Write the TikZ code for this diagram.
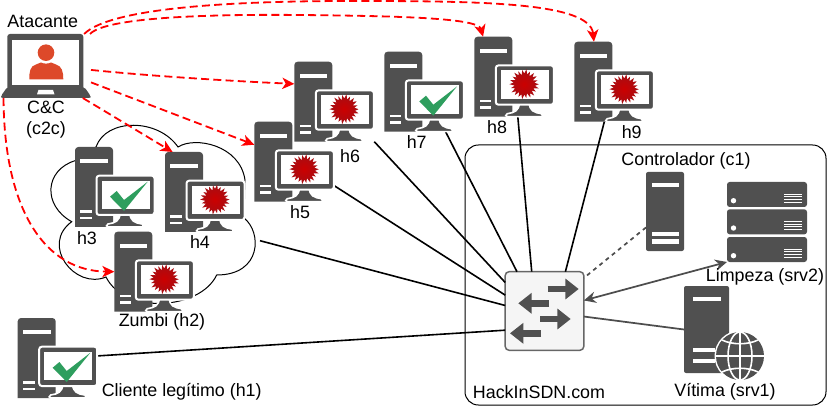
\documentclass[tikz,border=0pt]{standalone}
\usepackage{fontspec}
\setmainfont{Liberation Sans}
\definecolor{icongray}{RGB}{80, 80, 80}
\definecolor{linegray}{RGB}{77, 77, 77}
\definecolor{swfill}{RGB}{245, 245, 245}
\definecolor{swline}{RGB}{102, 102, 102}
\definecolor{attackred}{RGB}{255, 0, 0}
\definecolor{okgreen}{RGB}{46, 158, 94}
\definecolor{personred}{RGB}{221, 73, 42}
\definecolor{virusred}{RGB}{165, 14, 20}
\usepackage{tikz}
\usetikzlibrary{arrows.meta, positioning, shadings}

\begin{document}
\begin{tikzpicture}[
  x=0.75pt, y=-0.75pt,
  lbl/.style={font=\fontsize{13.4}{15.8}\selectfont, inner sep=0pt, align=center},
  hostbox/.style={minimum width=60pt, minimum height=60pt, inner sep=0pt, outer sep=0pt},
  rackbox/.style={minimum width=60pt, minimum height=60pt, inner sep=0pt, outer sep=0pt},
  laptopbox/.style={minimum width=67.5pt, minimum height=48pt, inner sep=0pt, outer sep=0pt},
  towerbox/.style={fill=icongray, rounded corners=1.5pt, inner sep=0pt, outer sep=0pt},
  switchbox/.style={draw=swline, fill=swfill, line width=1.1pt, rounded corners=3pt,
    minimum width=59pt, minimum height=59pt, inner sep=0pt, outer sep=0pt},
  swarrow/.style={-{Triangle[length=10pt, width=15pt]}, line width=5pt, icongray},
  attack/.style={draw=attackred, line width=1.35pt, dash pattern=on 6pt off 3.2pt,
    -{Stealth[length=9pt, width=8.5pt, inset=2.5pt, fill=attackred]}},
  link/.style={draw=black, line width=1.2pt},
  grayline/.style={draw=linegray, line width=1.3pt},
  pics/pcbase/.style={code={
    \fill[icongray] (0,80) [rounded corners=2.5pt] -- (0,0) -- (38,0) [sharp corners] -- (38,80) -- cycle;
    \fill[white] (5.3,12) rectangle (33,16);
    \fill[white] (5.3,63) rectangle (17,65.7);
    \fill[white] (5.3,69.7) rectangle (17,72);
    \draw[white, line width=1.2pt, fill=icongray] (45,66) -- (55,66) .. controls (55,74) and (60,76) .. (67,77)
      .. controls (69,78) and (69,80) .. (67,80) -- (33,80) .. controls (31,80) and (31,78) .. (33,77)
      .. controls (40,76) and (45,74) .. (45,66) -- cycle;
    \draw[white, line width=1.5pt, fill=icongray, rounded corners=2pt] (21.5,28.7) rectangle (79.5,68);
    \fill[white] (26.5,33.7) rectangle (74.5,62);
  }},
  pics/pcok/.style={code={
    \pic {pcbase};
    \fill[okgreen] (35,49.7) -- (41.7,44) -- (49,53) -- (72.7,34.7) -- (49,64) -- cycle;
  }},
  pics/pcvirus/.style={code={
    \pic {pcbase};
    \shade[inner color=red!80!black, outer color=virusred]
      plot[samples at={0,1,...,43}, variable=\k]
        ({50+(12.3+2.2*cos(\k*180)+0.8*sin(\k*67))*cos(\k*8.1818)},
         {47.5+(12.3+2.2*cos(\k*180)+0.8*sin(\k*67))*sin(\k*8.1818)}) -- cycle;
  }},
  pics/rackunit/.style={code={
    \fill[icongray, rounded corners=2pt] (0,0) rectangle (80,25);
    \fill[white] (6.5,18.7) circle (2.7);
    \fill[white] (57,12) rectangle (74.7,12.9);
    \fill[white] (57,14.4) rectangle (74.7,15.3);
    \fill[white] (57,17) rectangle (74.7,17.9);
    \fill[white] (57,19.6) rectangle (74.7,20.5);
  }},
  pics/laptop/.style={code={
    \fill[icongray, rounded corners=2pt] (6.3,0) rectangle (82.3,59);
    \fill[icongray, rounded corners=1.5pt] (6.3,53) -- (83.3,53) -- (89.7,62) -- (89.7,64) -- (0,64) -- (0,62) -- cycle;
    \fill[white] (11.3,6) rectangle (77.7,51);
    \fill[white] (37.5,56) -- (52,56) -- (53.5,60.3) -- (36,60.3) -- cycle;
    \fill[personred] (45,18.7) circle (8.3);
    \fill[personred] (28.3,45.3) .. controls (28.3,38) and (29,32) .. (35,30.5)
      -- (40,28.5) .. controls (43,30) and (47,30) .. (50,28.5) -- (55,30.5)
      .. controls (61,32) and (62.3,38) .. (62.3,45.3) -- cycle;
  }}
]
  \useasboundingbox (0,0) rectangle (839,406);

  \draw[black, line width=0.75pt, rounded corners=10pt] (465,145) rectangle (826,405);

  % botnet cloud
  \draw[black, line width=0.75pt] (96,147) .. controls (106,118) and (158,118) .. (178,147)
    .. controls (195,136) and (240,145) .. (245,180) -- (244,218)
    .. controls (262,232) and (262,275) .. (216.7,275)
    .. controls (200,310) and (125,315) .. (106,277)
    .. controls (75,290) and (40,245) .. (71.7,221.7)
    .. controls (42,205) and (45,170) .. (75,160.7) -- cycle;

  \node[hostbox] (h1) at (57.7,358) {};
  \node[hostbox] (h2) at (154.3,271.7) {};
  \node[hostbox] (h3) at (115,187) {};
  \node[hostbox] (h4) at (205,192) {};
  \node[hostbox] (h5) at (294.3,161.7) {};
  \node[hostbox] (h6) at (334.3,101.7) {};
  \node[hostbox] (h7) at (424.3,91.7) {};
  \node[hostbox] (h8) at (514.3,76.7) {};
  \node[hostbox] (h9) at (614.3,81.7) {};
  \node[laptopbox] (c2c) at (46,66) {};
  \node[switchbox] (sw) at (544.5,311) {};
  \node[towerbox, minimum width=28.5pt, minimum height=59.25pt] (c1) at (665,211.5) {};
  \node[towerbox, minimum width=33.75pt, minimum height=65.25pt] (srv1) at (706.5,329.5) {};
  \node[rackbox] (srv2) at (767,222) {};
  \coordinate (cloudout) at (260,240.7);

  \draw[link] (h1.3) -- (sw.206.5);
  \draw[link] (cloudout) -- (sw.172.8);
  \draw[link] (h5.-31.7) -- (sw.158);
  \draw[link] (h6.south east) -- (sw.144.7);
  \draw[link] (h7.-62) -- (sw.125);
  \draw[link] (h8.-85) -- (sw.108.9);
  \draw[link] (h9.-104) -- (sw.62.6);
  \draw[grayline, dashed] (c1.220) -- (sw.40.5);
  \draw[grayline, {Stealth[length=9pt, width=8.5pt, inset=3pt]}-{Stealth[length=9pt, width=8.5pt, inset=3pt]}] (sw.15.6) -- (srv2.south west);
  \draw[grayline] (sw.-8.2) -- (srv1.west);

  \pic at (h1.north west) {pcok};
  \pic at (h2.north west) {pcvirus};
  \pic at (h3.north west) {pcok};
  \pic at (h4.north west) {pcvirus};
  \pic at (h5.north west) {pcvirus};
  \pic at (h6.north west) {pcvirus};
  \pic at (h7.north west) {pcok};
  \pic at (h8.north west) {pcvirus};
  \pic at (h9.north west) {pcvirus};
  \pic at (c2c.north west) {laptop};

  \fill[white] (651.7,183.3) rectangle (679,187.3);
  \fill[white] (651.7,232.3) rectangle (679,236);
  \fill[white] (651.7,239.3) rectangle (679,243.7);

  \fill[white] (693.3,296.7) rectangle (720.7,300.7);
  \fill[white] (693.3,348.3) rectangle (715,352.3);
  \fill[white] (693.3,359) rectangle (715,363);
  % globe
  \fill[white] (740,356) circle (25.5);
  \fill[icongray] (740,356) circle (24);
  \draw[white, line width=1.2pt] (740,332) -- (740,380);
  \draw[white, line width=1.2pt] (716,356) -- (764,356);
  \draw[white, line width=1.2pt] (740,356) ellipse (12 and 24);
  \draw[white, line width=1.2pt] (722,340) .. controls (732,345) and (748,345) .. (758,340);
  \draw[white, line width=1.2pt] (722,372) .. controls (732,367) and (748,367) .. (758,372);

  \pic at (srv2.north west) {rackunit};
  \pic at ([yshift=-20.5pt]srv2.north west) {rackunit};
  \pic at ([yshift=-41.25pt]srv2.north west) {rackunit};

  \draw[swarrow] (547.7,289) -- (578.7,289);
  \draw[swarrow] (549,303.3) -- (518.3,303.3);
  \draw[swarrow] (540,319) -- (570.7,319);
  \draw[swarrow] (541,333.3) -- (510,333.3);

  \draw[attack] (c2c.40) .. controls (110,8) and (230,1) .. (350,1) .. controls (480,1) and (590,2) .. (h9.117);
  \draw[attack] (c2c.36.7) .. controls (105,18) and (200,14) .. (300,15) .. controls (400,16) and (478,18) .. (h8.128);
  \draw[attack] (c2c.-5.7) .. controls (150,76) and (230,81) .. (h6.156);
  \draw[attack] (c2c.-20.7) -- (h5.157);
  \draw[attack] (c2c.-41.6) -- (h4.129.5);
  \draw[attack] (c2c.217.3) .. controls (4,210) and (45,271) .. (h2.west);

  \node[lbl] (atacante) at (42.7,21.7) {Atacante};
  \node[lbl] (c2clbl) at (46,119.5) {C\&C\\(c2c)};
  \node[lbl] (h1lbl) at (181.7,391.7) {Cliente legítimo (h1)};
  \node[lbl] (h2lbl) at (162,322) {Zumbi (h2)};
  \node[lbl] (h3lbl) at (87,238) {h3};
  \node[lbl] (h4lbl) at (200,241.7) {h4};
  \node[lbl] (h5lbl) at (300,211.7) {h5};
  \node[lbl] (h6lbl) at (350,155.7) {h6};
  \node[lbl] (h7lbl) at (416.7,141.7) {h7};
  \node[lbl] (h8lbl) at (497,126.7) {h8};
  \node[lbl] (h9lbl) at (631.7,131.7) {h9};
  \node[lbl] (c1lbl) at (686,160.7) {Controlador (c1)};
  \node[lbl] (srv2lbl) at (765,277) {Limpeza (srv2)};
  \node[lbl] (srv1lbl) at (725,392) {Vítima (srv1)};
  \node[lbl] (swlbl) at (539,392) {HackInSDN.com};
\end{tikzpicture}
\end{document}
